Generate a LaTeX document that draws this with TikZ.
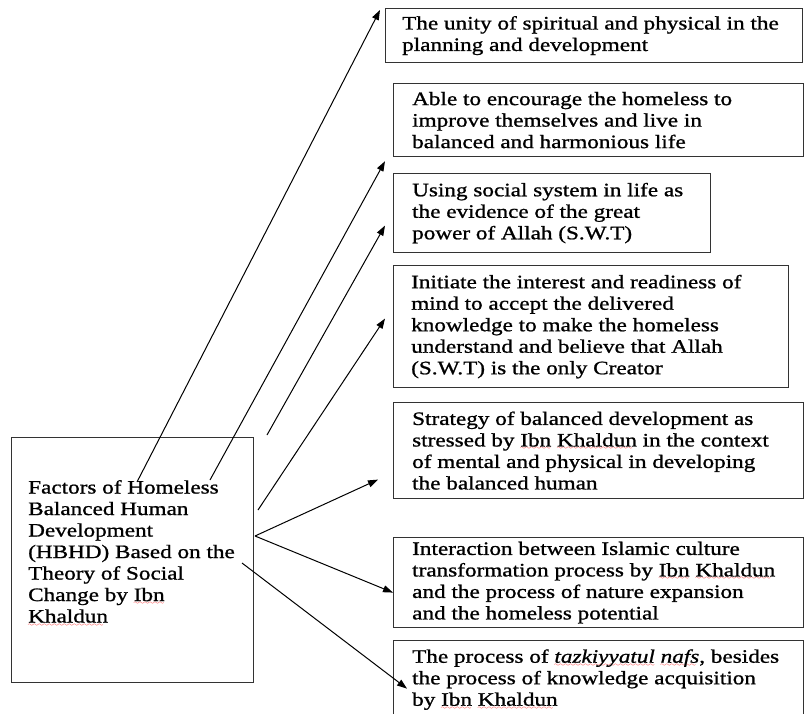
\documentclass[tikz,border=0pt]{standalone}
\usepackage{fontspec}
\setmainfont{Liberation Serif}[FakeStretch=1.22,FakeBold=1]
\usetikzlibrary{arrows.meta}
\font\wavefont=lasy6
\newcommand\spell[1]{\setbox0\hbox{#1}\rlap{\raisebox{-3.5pt}{\color{red}\leaders\hbox{\wavefont\char58}\hskip\wd0}}\box0\relax}
\tikzset{
	factorbox/.style={draw=black!80,line width=1.2pt,anchor=north west,inner sep=0pt},
	boxtext/.style={anchor=west,align=left,inner sep=0pt,font=\fontsize{19}{21.5}\selectfont},
	flow/.style={line width=1pt,-{Triangle[length=10pt,width=7pt]}}
}

\begin{document}
\begin{tikzpicture}[x=1pt,y=-1pt]
	\useasboundingbox (0,0) rectangle (806,714);
	\clip (0,0) rectangle (806,714);
	
	% left box
	\node (lb) [factorbox,minimum width=242,minimum height=245] at (11,437) {};
	\node (lbt) [boxtext] at ([shift={(17,-7)}]lb.west) {Factors of Homeless\\Balanced Human\\Development\\(HBHD) Based on the\\Theory of Social\\Change by \spell{Ibn}\\\spell{Khaldun}};
	
	% right boxes
	\node (b1) [factorbox,minimum width=417,minimum height=54] at (385,8) {};
	\node (b1t) [boxtext] at ([shift={(17,0)}]b1.west) {The unity of spiritual and physical in the\\planning and development};
	\node (b2) [factorbox,minimum width=410,minimum height=73] at (393,83) {};
	\node (b2t) [boxtext] at ([shift={(19,0)}]b2.west) {Able to encourage the homeless to\\improve themselves and live in\\balanced and harmonious life};
	\node (b3) [factorbox,minimum width=317,minimum height=79] at (393,173) {};
	\node (b3t) [boxtext] at ([shift={(19,0)}]b3.west) {Using social system in life as\\the evidence of the great\\power of Allah (S.W.T)};
	\node (b4) [factorbox,minimum width=395,minimum height=122] at (393,265) {};
	\node (b4t) [boxtext] at ([shift={(18,0)}]b4.west) {Initiate the interest and readiness of\\mind to accept the delivered\\knowledge to make the homeless\\understand and believe that Allah\\(S.W.T) is the only Creator};
	\node (b5) [factorbox,minimum width=410,minimum height=96] at (393,402) {};
	\node (b5t) [boxtext] at ([shift={(19,0)}]b5.west) {Strategy of balanced development as\\stressed by \spell{Ibn} \spell{Khaldun} in the context\\of mental and physical in developing\\the balanced human};
	\node (b6) [factorbox,minimum width=410,minimum height=90] at (393,537) {};
	\node (b6t) [boxtext] at ([shift={(19,0)}]b6.west) {Interaction between Islamic culture\\transformation process by \spell{Ibn} \spell{Khaldun}\\and the process of nature expansion\\and the homeless potential};
	\node (b7) [factorbox,minimum width=410,minimum height=80] at (393,640) {};
	\node (b7t) [boxtext] at ([shift={(19,-1)}]b7.west) {The process of \textit{\spell{tazkiyyatul} \spell{nafs}}, besides\\the process of knowledge acquisition\\by \spell{Ibn} \spell{Khaldun}};
	
	% arrow tails
	\coordinate (s1) at (137,482);
	\coordinate (s2) at (210,480);
	\coordinate (s3) at (267,435);
	\coordinate (s4) at (258,510);
	\coordinate (s5) at (255,536);
	\coordinate (s7) at (242,563);
	
	\draw [flow] (s1) -- ([shift={(-5,2)}]b1.north west);
	\draw [flow] (s2) -- ([shift={(-8,4)}]b2.south west);
	\draw [flow] (s3) -- ([shift={(-8,12.5)}]b3.west);
	\draw [flow] (s4) -- ([shift={(-8,-8)}]b4.west);
	\draw [flow] (s5) -- ([shift={(-15,29)}]b5.west);
	\draw [flow] (s5) -- ([shift={(0,10)}]b6.west);
	\draw [flow] (s7) -- ([shift={(14,8)}]b7.west);
	
\end{tikzpicture}
\end{document}
